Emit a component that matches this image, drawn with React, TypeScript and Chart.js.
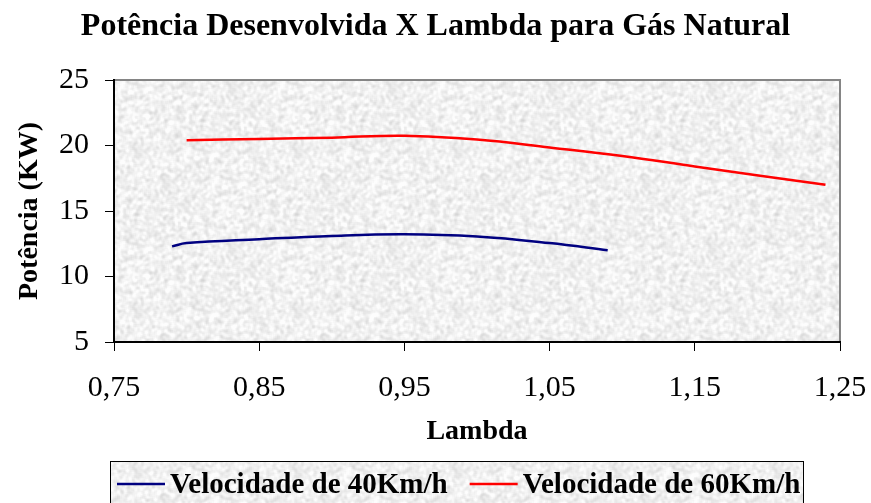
import { useEffect, useRef } from "react";
import { Chart, registerables } from "chart.js";

Chart.register(...registerables);

// Power output vs. lambda, natural gas engine
const TITLE = "Potência Desenvolvida X Lambda para Gás Natural";
const X_TITLE = "Lambda";
const Y_TITLE = "Potência (KW)";

const seriesNames = ["Velocidade de 40Km/h", "Velocidade de 60Km/h"];
const seriesColors = ["#000080", "#ff0000"];

const lambda40 = [0.79, 0.8, 0.85, 0.9, 0.95, 1.0, 1.05, 1.09];
const power40 = [12.3, 12.55, 12.85, 13.1, 13.22, 13.05, 12.55, 12.0];

const lambda60 = [0.8, 0.85, 0.9, 0.95, 1.0, 1.05, 1.1, 1.15, 1.24];
const power60 = [20.4, 20.5, 20.6, 20.75, 20.45, 19.85, 19.2, 18.4, 17.0];

const xRange = [0.75, 1.25];
const xStep = 0.1;
const yRange = [5, 25];
const yStep = 5;

const SERIF = "'Liberation Serif', 'Times New Roman', serif";

// Light speckled "granite" fill used behind the plot and the legend
function makeGranite(w: number, h: number): HTMLCanvasElement {
  let seed = 1234567;
  const rnd = () => {
    seed = (seed * 1103515245 + 12345) & 0x7fffffff;
    return seed / 0x7fffffff;
  };
  let a = new Float32Array(w * h);
  for (let i = 0; i < a.length; i++) a[i] = rnd();
  for (let pass = 0; pass < 2; pass++) {
    const b = new Float32Array(w * h);
    for (let y = 0; y < h; y++) {
      for (let x = 0; x < w; x++) {
        let s = 0;
        for (let dy = -1; dy <= 1; dy++) {
          for (let dx = -1; dx <= 1; dx++) {
            const xx = (x + dx + w) % w;
            const yy = (y + dy + h) % h;
            s += a[yy * w + xx];
          }
        }
        b[y * w + x] = s / 9;
      }
    }
    a = b;
  }
  const c = document.createElement("canvas");
  c.width = w;
  c.height = h;
  const g = c.getContext("2d")!;
  const img = g.createImageData(w, h);
  for (let i = 0; i < a.length; i++) {
    const v = Math.max(214, Math.min(253, Math.round(241 + (a[i] - 0.5) * 115)));
    img.data[i * 4] = v;
    img.data[i * 4 + 1] = v;
    img.data[i * 4 + 2] = v;
    img.data[i * 4 + 3] = 255;
  }
  g.putImageData(img, 0, 0);
  return c;
}

export default function App() {
  const ref = useRef<HTMLCanvasElement | null>(null);

  useEffect(() => {
    const canvas = ref.current;
    if (!canvas) return;
    const texture = makeGranite(160, 160);

    const decor = {
      id: "decor",
      beforeDraw(chart: any) {
        const { ctx, chartArea: a, width } = chart;
        ctx.save();
        ctx.fillStyle = "#ffffff";
        ctx.fillRect(0, 0, chart.width, chart.height);
        ctx.fillStyle = ctx.createPattern(texture, "repeat");
        ctx.fillRect(a.left, a.top, a.right - a.left, a.bottom - a.top);
        ctx.strokeStyle = "#858585";
        ctx.lineWidth = 2;
        ctx.beginPath();
        ctx.moveTo(a.left, a.top);
        ctx.lineTo(a.right, a.top);
        ctx.lineTo(a.right, a.bottom);
        ctx.stroke();
        ctx.fillStyle = "#000";
        ctx.font = `bold 32px ${SERIF}`;
        ctx.textAlign = "center";
        ctx.textBaseline = "alphabetic";
        ctx.fillText(TITLE, width / 2, 35);
        ctx.restore();
      },
      afterDraw(chart: any) {
        const { ctx } = chart;
        const box = { x: 110.5, y: 461.5, w: 693, h: 50 };
        ctx.save();
        ctx.fillStyle = ctx.createPattern(texture, "repeat");
        ctx.fillRect(box.x, box.y, box.w, box.h);
        ctx.strokeStyle = "#000";
        ctx.lineWidth = 1;
        ctx.strokeRect(box.x, box.y, box.w, box.h);
        ctx.font = `bold 29px ${SERIF}`;
        ctx.textAlign = "left";
        ctx.textBaseline = "alphabetic";
        let x = 117;
        chart.data.datasets.forEach((ds: any) => {
          ctx.strokeStyle = ds.borderColor;
          ctx.lineWidth = 2.5;
          ctx.beginPath();
          ctx.moveTo(x, 484);
          ctx.lineTo(x + 48, 484);
          ctx.stroke();
          x += 53;
          ctx.fillStyle = "#000";
          ctx.fillText(ds.label, x, 493);
          x += ctx.measureText(ds.label).width + 22;
        });
        ctx.restore();
      },
    };

    const toPoints = (xs: number[], ys: number[]) => xs.map((x, i) => ({ x, y: ys[i] }));

    const chart = new Chart(canvas, {
      type: "line",
      data: {
        datasets: [
          {
            label: seriesNames[0],
            data: toPoints(lambda40, power40),
            borderColor: seriesColors[0],
            borderWidth: 2.5,
            pointRadius: 0,
            tension: 0.4,
            fill: false,
          },
          {
            label: seriesNames[1],
            data: toPoints(lambda60, power60),
            borderColor: seriesColors[1],
            borderWidth: 2.5,
            pointRadius: 0,
            tension: 0.4,
            fill: false,
          },
        ],
      },
      options: {
        animation: false,
        responsive: false,
        devicePixelRatio: 1,
        layout: { padding: { top: 80, right: 31, bottom: 45, left: 0 } },
        plugins: {
          legend: { display: false },
          title: { display: false },
          tooltip: { enabled: false },
        },
        scales: {
          x: {
            type: "linear",
            min: xRange[0],
            max: xRange[1],
            afterFit: (s: any) => {
              s.height = 116;
              s.paddingLeft = 0;
              s.paddingRight = 0;
            },
            ticks: {
              stepSize: xStep,
              color: "#000",
              padding: 19,
              font: { family: SERIF, size: 30 },
              callback: (v: any) => Number(v).toFixed(2).replace(".", ","),
            },
            grid: {
              drawOnChartArea: false,
              drawTicks: true,
              tickLength: 9,
              tickColor: "#000",
              tickWidth: 1,
            },
            border: { display: true, color: "#000", width: 2 },
            title: {
              display: true,
              text: X_TITLE,
              color: "#000",
              font: { family: SERIF, size: 28, weight: "bold" },
              padding: { top: 0, bottom: 9 },
            },
          },
          y: {
            type: "linear",
            min: yRange[0],
            max: yRange[1],
            afterFit: (s: any) => {
              s.width = 114;
              s.paddingTop = 0;
              s.paddingBottom = 0;
            },
            ticks: {
              stepSize: yStep,
              color: "#000",
              padding: 16,
              font: { family: SERIF, size: 30 },
            },
            grid: {
              drawOnChartArea: false,
              drawTicks: true,
              tickLength: 9,
              tickColor: "#000",
              tickWidth: 1,
            },
            border: { display: true, color: "#000", width: 2 },
            title: {
              display: true,
              text: Y_TITLE,
              color: "#000",
              font: { family: SERIF, size: 28, weight: "bold" },
              padding: { top: 13, bottom: 0 },
            },
          },
        },
      },
      plugins: [decor],
    });

    return () => chart.destroy();
  }, []);

  return (
    <div style={{ position: "absolute", left: 0, top: 0, width: 871, height: 503 }}>
      <canvas ref={ref} width={871} height={503} />
    </div>
  );
}
